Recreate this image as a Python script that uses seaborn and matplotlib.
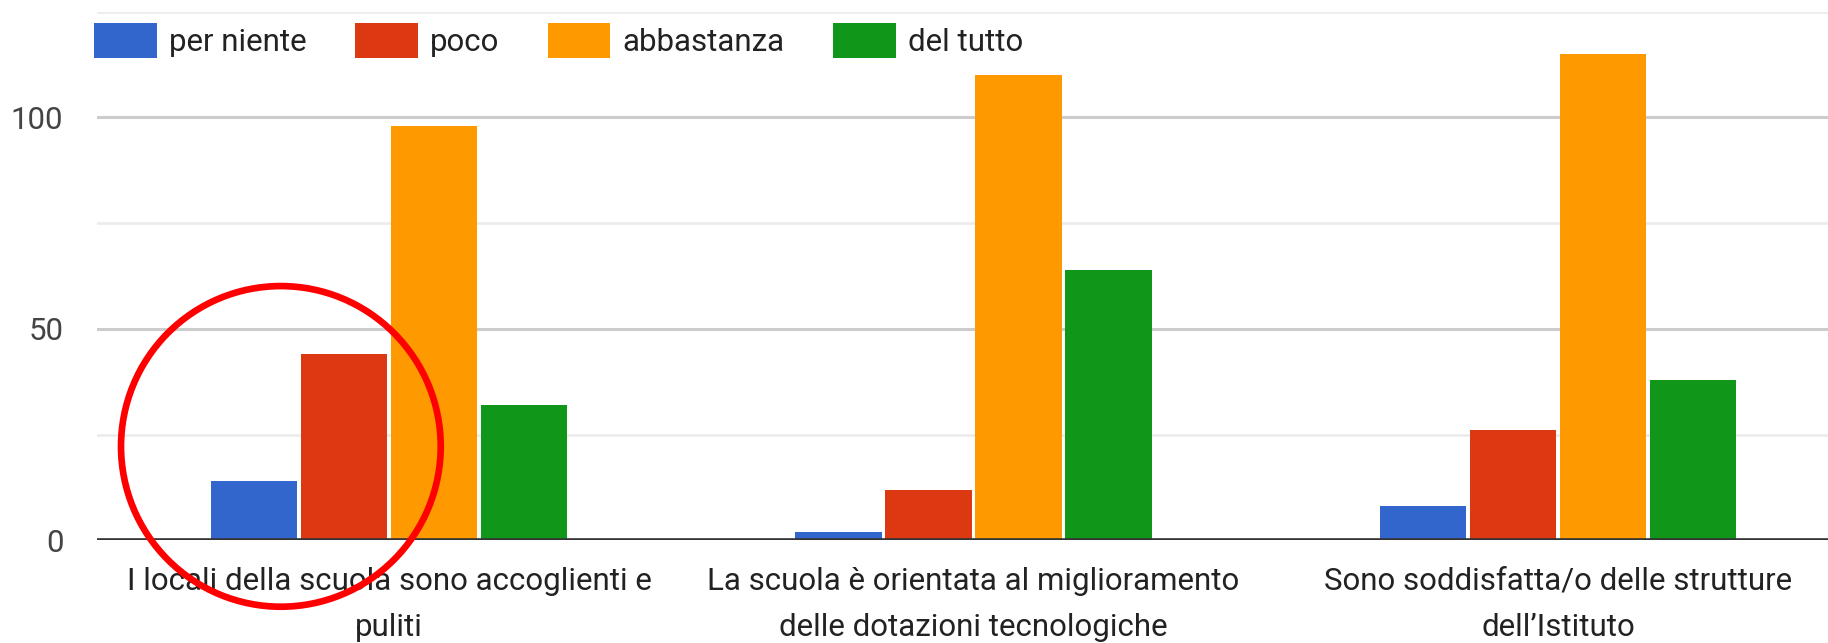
import matplotlib
matplotlib.use("Agg")
import matplotlib.pyplot as plt
from matplotlib.patches import Ellipse
import pandas as pd
import seaborn as sns

# survey answers, one list per level
categories = [
    "I locali della scuola sono accoglienti e\npuliti",
    "La scuola è orientata al miglioramento\ndelle dotazioni tecnologiche",
    "Sono soddisfatta/o delle strutture\ndell\u2019Istituto",
]
levels = ["per niente", "poco", "abbastanza", "del tutto"]
per_niente = [14, 2, 8]
poco = [44, 12, 26]
abbastanza = [98, 110, 115]
del_tutto = [32, 64, 38]

colors = {"per niente": "#3366CC", "poco": "#DC3912",
          "abbastanza": "#FF9900", "del tutto": "#109618"}

rows = []
for lvl, vals in zip(levels, [per_niente, poco, abbastanza, del_tutto]):
    for cat, v in zip(categories, vals):
        rows.append({"domanda": cat, "risposta": lvl, "n": v})
df = pd.DataFrame(rows)

sns.set_style("white")
plt.rcParams["font.family"] = ["Roboto", "DejaVu Sans"]

W, H = 1828, 643
fig = plt.figure(figsize=(W / 100, H / 100), dpi=100)
# plot area is wider than the picture: the right edge is cut off
ax = fig.add_axes([96.75 / W, 1 - 540.3 / H, 1753.5 / W, 528.75 / H])

sns.barplot(data=df, x="domanda", y="n", hue="risposta", order=categories,
            hue_order=levels, palette=colors, width=0.616, gap=0.035,
            linewidth=0, saturation=1, ax=ax, zorder=2)

ax.set_xlim(-0.5, 2.5)
ax.set_ylim(0, 125)
ax.set_yticks([0, 50, 100])
ax.set_yticks([25, 75, 125], minor=True)
ax.grid(False)
ax.yaxis.grid(True, which="major", color="#cccccc", linewidth=2.2, zorder=0)
ax.yaxis.grid(True, which="minor", color="#ebebeb", linewidth=1.8, zorder=0)
ax.set_axisbelow(True)
ax.axhline(0, color="#333333", linewidth=2.6, zorder=3)
for s in ax.spines.values():
    s.set_visible(False)

ax.set_xlabel("")
ax.set_ylabel("")
ax.tick_params(axis="y", which="both", length=0, pad=24, labelsize=22.5,
               labelcolor="#444444")
ax.tick_params(axis="x", length=0, pad=19, labelsize=22.5, labelcolor="#222222")
for t in ax.get_xticklabels():
    t.set_linespacing(1.75)

handles, labels = ax.get_legend_handles_labels()
if ax.get_legend() is not None:
    ax.get_legend().remove()
fig.legend(handles, labels, ncol=4, loc="upper left",
           bbox_to_anchor=(94 / W, 1 - 23 / H), frameon=False,
           fontsize=22.5, labelcolor="#222222", handlelength=2.0,
           handleheight=1.35, handletextpad=0.4, columnspacing=1.55,
           borderpad=0, borderaxespad=0)

# red circle highlighting the first group
ax.add_patch(Ellipse((-0.185, 22.2), width=0.547, height=75.8, fill=False,
                     edgecolor="#ff0000", linewidth=4.8, clip_on=False,
                     zorder=5))

fig.savefig("out.png", dpi=100, facecolor="white")
